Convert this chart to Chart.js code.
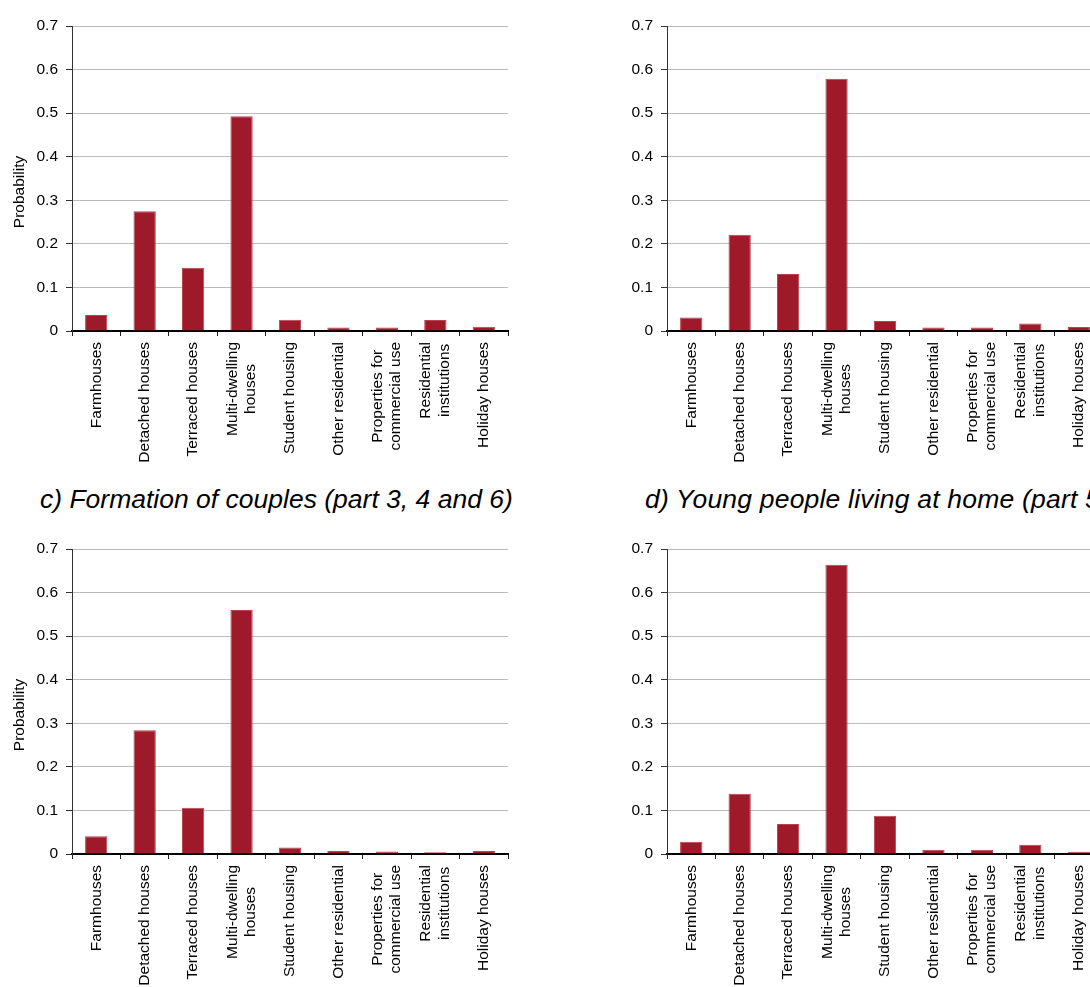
<!DOCTYPE html>
<html>
<head>
<meta charset="utf-8">
<script src="https://cdn.jsdelivr.net/npm/chart.js@4.4.1/dist/chart.umd.min.js"></script>
<style>
  html, body { margin: 0; padding: 0; background: #fff; overflow: hidden; width: 1090px; height: 987px; }
  .panel { position: absolute; }
  .caption { position: absolute; font: italic 26.5px "Liberation Sans", Arial, sans-serif; line-height: 30px; white-space: nowrap; color: #000; }
</style>
</head>
<body>
<canvas id="chartA" class="panel" width="520" height="480" style="left:0;top:0"></canvas>
<canvas id="chartB" class="panel" width="520" height="480" style="left:595px;top:0"></canvas>
<div class="caption" style="left:40px;top:484px">c) Formation of couples (part 3, 4 and 6)</div>
<div class="caption" style="left:645px;top:484px;letter-spacing:0.2px">d) Young people living at home (part 5)</div>
<canvas id="chartC" class="panel" width="520" height="480" style="left:0;top:523px"></canvas>
<canvas id="chartD" class="panel" width="520" height="480" style="left:595px;top:523px"></canvas>

<script>
// Dwelling types (multi-line labels are split into lines)
const categories = [
  ["Farmhouses"],
  ["Detached houses"],
  ["Terraced houses"],
  ["Multi-dwelling", "houses"],
  ["Student housing"],
  ["Other residential"],
  ["Properties for", "commercial use"],
  ["Residential", "institutions"],
  ["Holiday houses"]
];

// Probability of each dwelling type, one array per panel
const probA = [0.037, 0.275, 0.145, 0.493, 0.026, 0.008, 0.008, 0.025, 0.010];
const probB = [0.031, 0.221, 0.131, 0.579, 0.023, 0.008, 0.008, 0.017, 0.009];
const probCouples = [0.041, 0.284, 0.106, 0.560, 0.015, 0.007, 0.006, 0.004, 0.007];
const probYoungAtHome = [0.028, 0.138, 0.069, 0.664, 0.088, 0.010, 0.010, 0.021, 0.005];

// Y axis ticks
const yTickValues = [0, 0.1, 0.2, 0.3, 0.4, 0.5, 0.6, 0.7];
const yTickLabels = ["0", "0.1", "0.2", "0.3", "0.4", "0.5", "0.6", "0.7"];
const yAxisTitle = "Probability";

const FONT = '"Liberation Sans", Arial, sans-serif';
const BAR_FILL = '#9e1a2b';
const BAR_EDGE = '#b8434f';

// Rotated, centre-aligned category labels and the vertical axis title
const axisText = {
  id: 'axisText',
  afterDraw(chart, args, opts) {
    const { ctx, chartArea } = chart;
    const x = chart.scales.x;
    ctx.save();
    ctx.fillStyle = '#000';
    ctx.font = '15.5px ' + FONT;
    ctx.textAlign = 'center';
    ctx.textBaseline = 'middle';
    x.ticks.forEach((t, i) => {
      const lines = categories[i];
      const px = x.getPixelForTick(i);
      const w = Math.max(...lines.map(l => ctx.measureText(l).width));
      ctx.save();
      ctx.translate(px, chartArea.bottom + 11 + w / 2);
      ctx.rotate(-Math.PI / 2);
      lines.forEach((l, j) => ctx.fillText(l, 0, (j - (lines.length - 1) / 2) * 18.5));
      ctx.restore();
    });
    if (opts.showTitle) {
      ctx.save();
      ctx.translate(20, chartArea.top + 166);
      ctx.rotate(-Math.PI / 2);
      ctx.fillText(yAxisTitle, 0, 0);
      ctx.restore();
    }
    ctx.restore();
  }
};

function makeChart(id, values, showTitle) {
  return new Chart(document.getElementById(id), {
    type: 'bar',
    data: {
      labels: categories.map(c => c.join(' ')),
      datasets: [{
        data: values,
        backgroundColor: BAR_FILL,
        borderColor: BAR_EDGE,
        borderWidth: 1,
        barPercentage: 0.46,
        categoryPercentage: 1.0
      }]
    },
    options: {
      responsive: false,
      animation: false,
      layout: { padding: { left: 0, right: 12, top: 26, bottom: 0 } },
      plugins: {
        legend: { display: false },
        tooltip: { enabled: false },
        axisText: { showTitle: showTitle }
      },
      scales: {
        x: {
          offset: true,
          grid: {
            offset: true,
            drawOnChartArea: false,
            drawTicks: true,
            tickLength: 5,
            tickColor: '#222',
            tickWidth: 1
          },
          border: { color: '#000', width: 2 },
          ticks: { display: false },
          afterFit(scale) { scale.height = 149; }
        },
        y: {
          min: 0,
          max: 0.7,
          afterBuildTicks(scale) { scale.ticks = yTickValues.map(v => ({ value: v })); },
          grid: {
            color: '#bcbcbc',
            borderDash: [2, 1],
            lineWidth: 1,
            drawTicks: true,
            tickLength: 6,
            tickColor: '#333',
            tickBorderDash: []
          },
          border: { color: '#333', width: 1 },
          ticks: {
            padding: 8,
            color: '#000',
            font: { family: FONT, size: 15.5 },
            callback(value, index) { return yTickLabels[index]; }
          },
          afterFit(scale) { scale.width = 72; }
        }
      }
    },
    plugins: [axisText]
  });
}

makeChart('chartA', probA, true);
makeChart('chartB', probB, false);
makeChart('chartC', probCouples, true);
makeChart('chartD', probYoungAtHome, false);
</script>
</body>
</html>
